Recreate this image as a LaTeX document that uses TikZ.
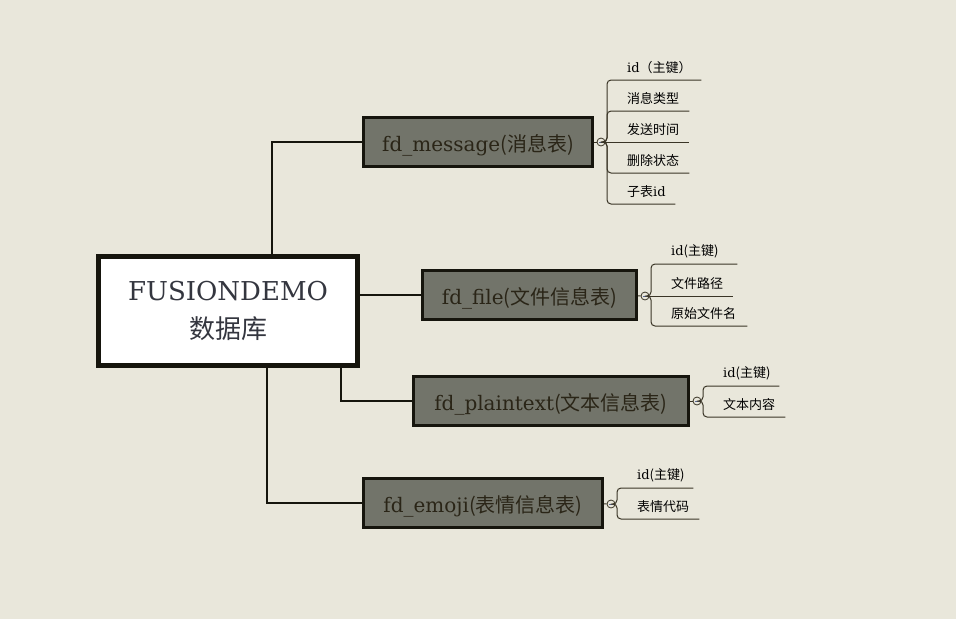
\documentclass[tikz,border=0pt]{standalone}
\usepackage{fontspec}
\setmainfont{DejaVu Serif}
\newfontfamily\cjkfont{Noto Sans CJK SC}
\usetikzlibrary{positioning, calc}
\definecolor{paper}{HTML}{E9E7DB}
\definecolor{ink}{HTML}{16150D}
\definecolor{boxfill}{HTML}{72746A}
\definecolor{boxtext}{HTML}{2A2517}
\definecolor{roottext}{HTML}{34363F}
\definecolor{twigline}{HTML}{3A3526}
\definecolor{knobmark}{HTML}{5A6A9A}
\tikzset{
  mindmap/.style={
	x=1pt, y=-1pt, % one unit is one pixel of the layout
	every node/.style={inner sep=0pt},
  },
  dbbox/.style={draw=ink, line width=5, fill=white, minimum width=259, minimum height=109,
	align=center, text=roottext, font=\fontsize{26}{38}\selectfont}, % the database node
  tablebox/.style={draw=ink, line width=3, fill=boxfill, minimum height=49, text height=19pt, text depth=0pt,
	text=boxtext, font=\fontsize{20}{22}\selectfont}, % one node per table
  knob/.style={circle, draw=twigline, fill=paper, line width=0.8, minimum size=8,
	path picture={\draw[knobmark, line width=0.8] ([xshift=-2.2pt]path picture bounding box.center) -- ([xshift=2.2pt]path picture bounding box.center);}}, % collapse button
  leaf/.style={anchor=south west, inner xsep=0pt, inner ysep=6pt, text width=#1, align=left,
	font=\fontsize{13}{15}\selectfont, execute at begin node=\hspace*{20pt}}, % underlined field
  branch/.style={draw=ink, line width=2},
  twig/.style={draw=twigline, line width=1, rounded corners=4},
}

\begin{document}
\begin{tikzpicture}[mindmap]
	\fill[paper] (0,0) rectangle (956,619);
	% database and tables
	\node[dbbox] (db) at (228,311) {FUSIONDEMO\\{\cjkfont 数据库}};
	\node[tablebox, minimum width=229] (msg) at (478,142) {fd\_message{\cjkfont (消息表)}};
	\node[tablebox, minimum width=214] (file) at (529.5,295) {fd\_file{\cjkfont (文件信息表)}};
	\node[tablebox, minimum width=275] (plain) at (551,401) {fd\_plaintext{\cjkfont (文本信息表)}};
	\node[tablebox, minimum width=239] (emoji) at (483,503) {fd\_emoji{\cjkfont (表情信息表)}};
	\draw[branch] ([xshift=44]db.north) |- (msg);
	\draw[branch] (db.east |- file) -- (file);
	\draw[branch] ([xshift=113]db.south) |- (plain);
	\draw[branch] ([xshift=39]db.south) |- (emoji);
	% fd_message fields
	\node[knob] (mk) at (601,142) {};
	\node[leaf=94] (m1) at (607,80) {id{\cjkfont （主键）}};
	\node[leaf=82] (m2) at (607,111) {\cjkfont 消息类型};
	\node[leaf=82] (m3) at (607,142) {\cjkfont 发送时间};
	\node[leaf=82] (m4) at (607,173) {\cjkfont 删除状态};
	\node[leaf=68] (m5) at (607,204) {{\cjkfont 子表}id};
	\draw[twig] (msg) -- (mk);
	\draw[twig] (mk) -| (m1.south west) -- (m1.south east);
	\draw[twig] (mk) -| (m2.south west) -- (m2.south east);
	\draw[twig] (mk) -- (m3.south east);
	\draw[twig] (mk) -| (m4.south west) -- (m4.south east);
	\draw[twig] (mk) -| (m5.south west) -- (m5.south east);
	% fd_file fields
	\node[knob] (fk) at (645,296) {};
	\node[leaf=86] (f1) at (651,264) {id{\cjkfont (主键)}};
	\node[leaf=82] (f2) at (651,296) {\cjkfont 文件路径};
	\node[leaf=96] (f3) at (651,326) {\cjkfont 原始文件名};
	\draw[twig] (file) -- (fk);
	\draw[twig] (fk) -| (f1.south west) -- (f1.south east);
	\draw[twig] (fk) -- (f2.south east);
	\draw[twig] (fk) -| (f3.south west) -- (f3.south east);
	% fd_plaintext fields
	\node[knob] (pk) at (697,401) {};
	\node[leaf=76] (p1) at (703,386) {id{\cjkfont (主键)}};
	\node[leaf=82] (p2) at (703,417) {\cjkfont 文本内容};
	\draw[twig] (plain) -- (pk);
	\draw[twig] (pk) -| (p1.south west) -- (p1.south east);
	\draw[twig] (pk) -| (p2.south west) -- (p2.south east);
	% fd_emoji fields
	\node[knob] (ek) at (611,504) {};
	\node[leaf=76] (e1) at (617,488) {id{\cjkfont (主键)}};
	\node[leaf=82] (e2) at (617,519) {\cjkfont 表情代码};
	\draw[twig] (emoji) -- (ek);
	\draw[twig] (ek) -| (e1.south west) -- (e1.south east);
	\draw[twig] (ek) -| (e2.south west) -- (e2.south east);
\end{tikzpicture}
\end{document}
